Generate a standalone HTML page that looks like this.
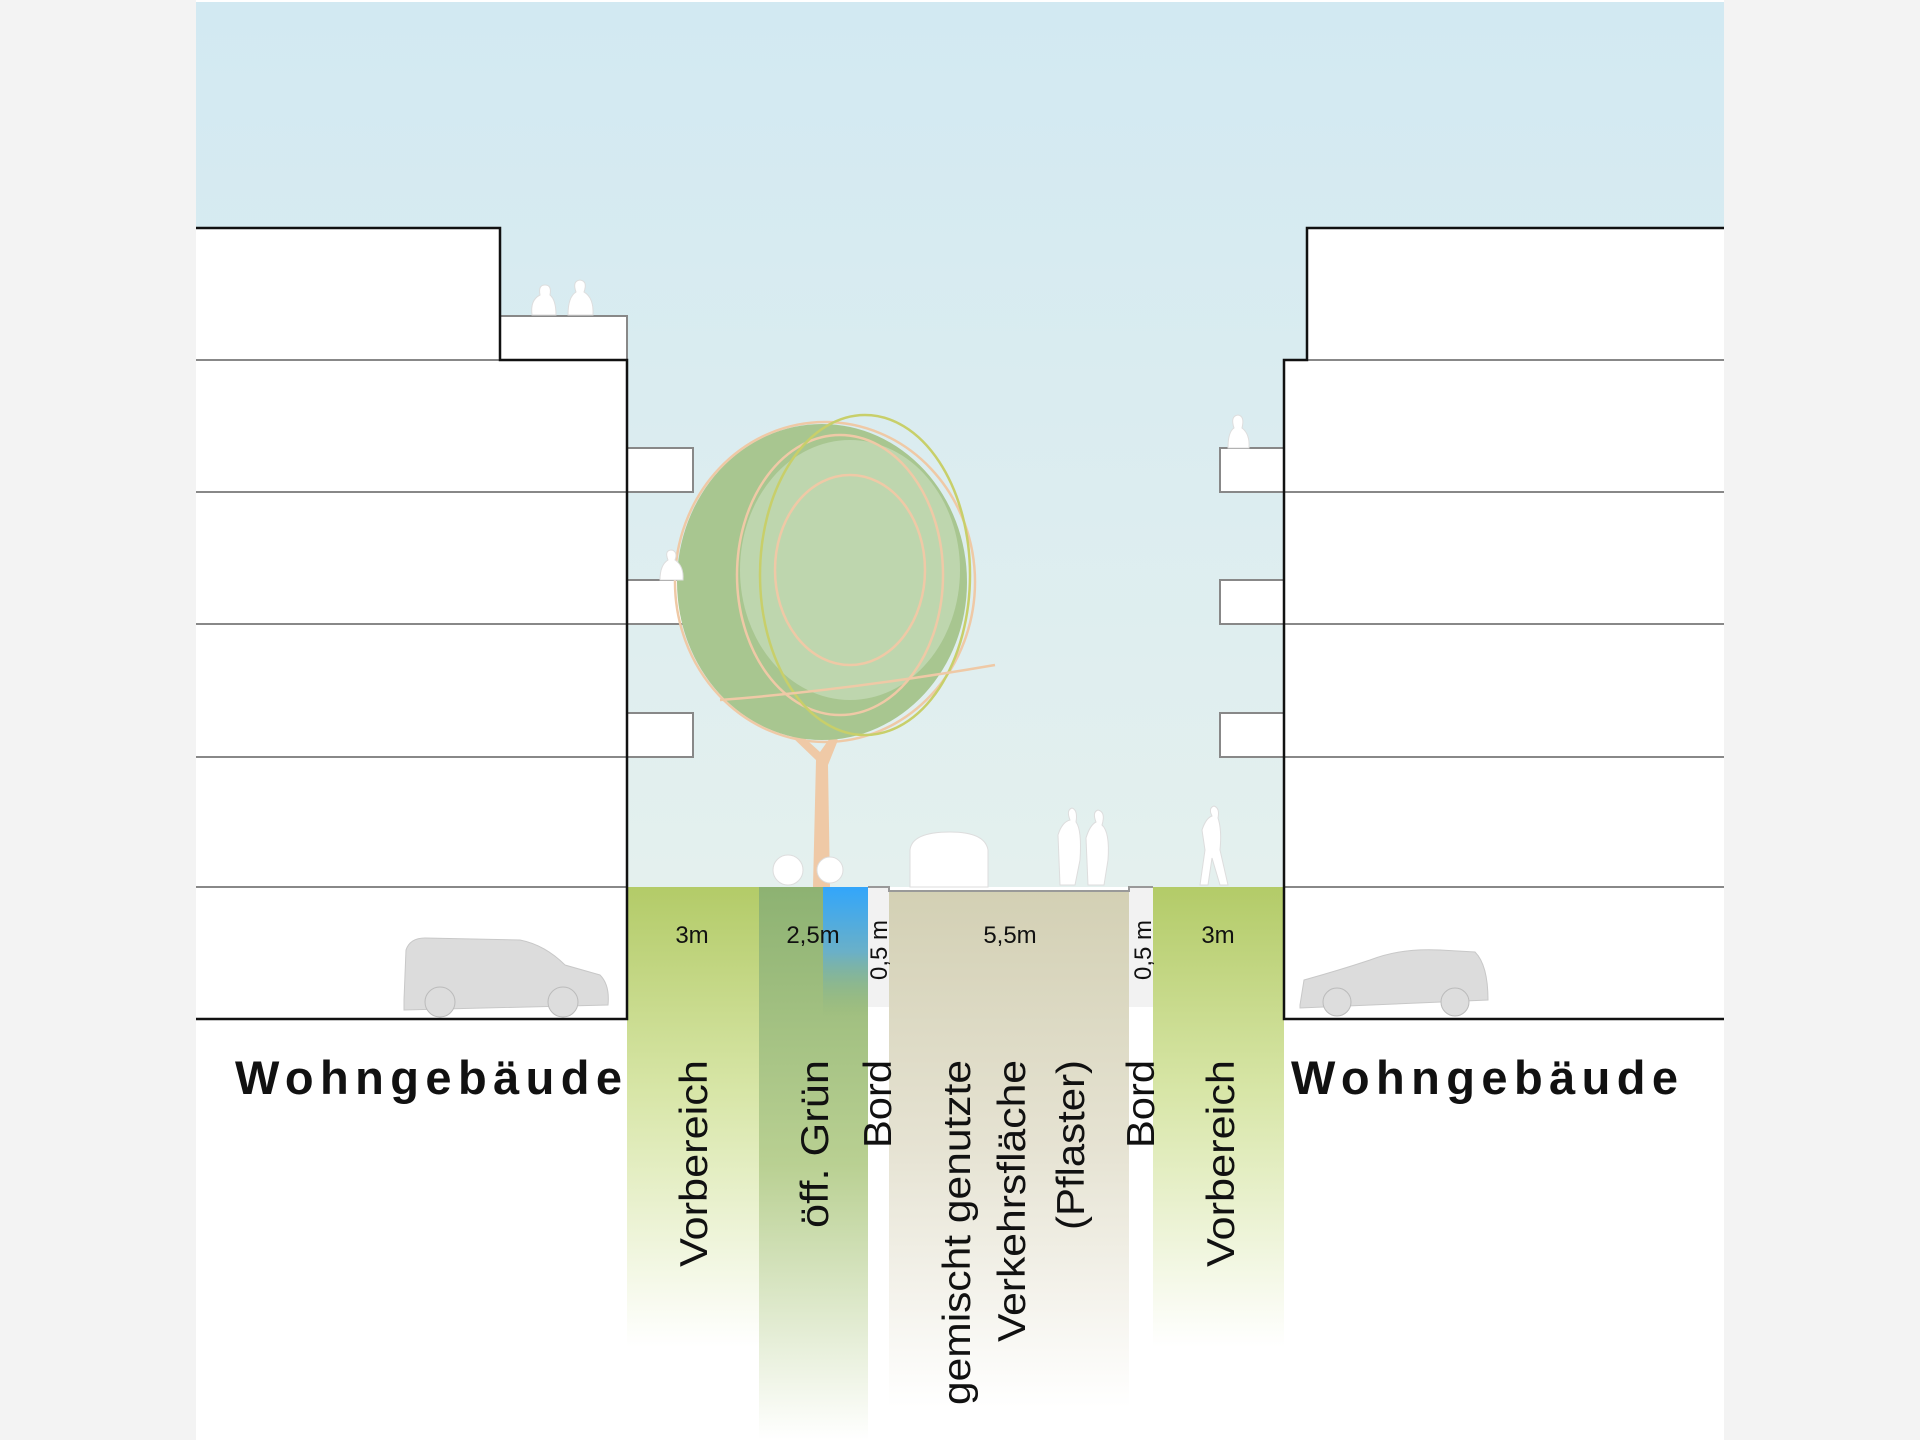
<!DOCTYPE html>
<html><head><meta charset="utf-8"><style>
html,body{margin:0;padding:0;background:#f3f3f3;}
svg{display:block;}
text{font-family:"Liberation Sans","DejaVu Sans",sans-serif;}
</style></head><body>
<svg width="1920" height="1440" viewBox="0 0 1920 1440" xmlns="http://www.w3.org/2000/svg">
<defs>
<linearGradient id="sky" x1="0" y1="0" x2="0" y2="1"><stop offset="0" stop-color="#d2e9f2"/><stop offset="1" stop-color="#e4f0ee"/></linearGradient>
<linearGradient id="vb" x1="0" y1="0" x2="0" y2="1"><stop offset="0" stop-color="#b3cb68"/><stop offset="0.45" stop-color="#d8e6a8"/><stop offset="1" stop-color="#ffffff"/></linearGradient>
<linearGradient id="gr" x1="0" y1="0" x2="0" y2="1"><stop offset="0" stop-color="#8db272"/><stop offset="0.5" stop-color="#b9d092"/><stop offset="1" stop-color="#ffffff"/></linearGradient>
<linearGradient id="bl" x1="0" y1="0" x2="0" y2="1"><stop offset="0" stop-color="#32a6fb"/><stop offset="0.5" stop-color="#6ab0c8"/><stop offset="1" stop-color="#8fb57a" stop-opacity="0"/></linearGradient>
<linearGradient id="pv" x1="0" y1="0" x2="0" y2="1"><stop offset="0" stop-color="#d3d0b4"/><stop offset="0.5" stop-color="#e6e3d3"/><stop offset="1" stop-color="#ffffff"/></linearGradient>
</defs>
<rect x="196" y="0" width="1528" height="1440" fill="#ffffff"/>
<rect x="196" y="2" width="1528" height="885" fill="url(#sky)"/>
<!-- strips -->
<rect x="627" y="887" width="132" height="460" fill="url(#vb)"/>
<rect x="759" y="887" width="109" height="553" fill="url(#gr)"/>
<rect x="823" y="887" width="45" height="130" fill="url(#bl)"/>
<rect x="868" y="887" width="21" height="500" fill="#ffffff"/>
<rect x="868" y="887" width="21" height="120" fill="#f2f2f2"/>
<rect x="889" y="891" width="240" height="517" fill="url(#pv)"/>
<rect x="1129" y="887" width="24" height="120" fill="#f2f2f2"/>
<rect x="1153" y="887" width="131" height="460" fill="url(#vb)"/>
<path d="M868 887 H889 V891 H1129 V887 H1153" fill="none" stroke="#999" stroke-width="2"/>
<!-- balconies -->
<g stroke="#888" stroke-width="2" fill="#fff">
<rect x="500" y="316" width="127" height="44"/>
<rect x="627" y="448" width="66" height="44"/>
<rect x="627" y="580" width="66" height="44"/>
<rect x="627" y="713" width="66" height="44"/>
<rect x="1220" y="448" width="64" height="44"/>
<rect x="1220" y="580" width="64" height="44"/>
<rect x="1220" y="713" width="64" height="44"/>
</g>
<path d="M196 228 H500 V360 H627 V1019 H196 Z" fill="#fff"/>
<path d="M1724 228 H1307 V360 H1284 V1019 H1724 Z" fill="#fff"/>
<g stroke="#888" stroke-width="2">
<line x1="196" y1="360" x2="500" y2="360"/><line x1="196" y1="492" x2="627" y2="492"/><line x1="196" y1="624" x2="627" y2="624"/><line x1="196" y1="757" x2="627" y2="757"/><line x1="196" y1="887" x2="627" y2="887"/>
<line x1="1307" y1="360" x2="1724" y2="360"/><line x1="1284" y1="492" x2="1724" y2="492"/><line x1="1284" y1="624" x2="1724" y2="624"/><line x1="1284" y1="757" x2="1724" y2="757"/><line x1="1284" y1="887" x2="1724" y2="887"/>
</g>
<g stroke="#111" stroke-width="2.5" fill="none">
<path d="M196 228 H500 V360 H627 V1019 H196"/>
<path d="M1724 228 H1307 V360 H1284 V1019 H1724"/>
</g>
<!-- cars -->
<path d="M404 1000 L406 950 Q410 938 425 938 L520 940 Q545 945 565 965 L600 975 Q610 985 608 1005 L404 1010 Z" fill="#dcdcdc" stroke="#c8c8c8"/>
<circle cx="440" cy="1002" r="15" fill="#ddd" stroke="#bbb"/><circle cx="563" cy="1002" r="15" fill="#ddd" stroke="#bbb"/>
<path d="M1300 1005 L1304 980 Q1340 970 1370 960 Q1400 948 1440 950 L1475 952 Q1488 965 1488 1000 L1300 1008 Z" fill="#dcdcdc" stroke="#c8c8c8"/>
<circle cx="1337" cy="1002" r="14" fill="#ddd" stroke="#bbb"/><circle cx="1455" cy="1002" r="14" fill="#ddd" stroke="#bbb"/>
<!-- tree -->
<path d="M813 887 L816 760 L790 735 L798 732 L820 752 L832 735 L838 740 L828 765 L830 887 Z" fill="#efc9a6"/>
<ellipse cx="822" cy="582" rx="145" ry="158" fill="#a8c690"/>
<ellipse cx="850" cy="570" rx="110" ry="130" fill="#bed6ae"/>
<g fill="none" stroke-width="2.5">
<ellipse cx="825" cy="582" rx="150" ry="160" stroke="#efc9a6"/>
<ellipse cx="840" cy="575" rx="103" ry="140" stroke="#efc9a6"/>
<ellipse cx="850" cy="570" rx="75" ry="95" stroke="#efc9a6"/>
<ellipse cx="865" cy="575" rx="105" ry="160" stroke="#c8cf6a"/>
<path d="M720 700 Q850 690 995 665" stroke="#efc9a6"/>
</g>
<!-- people / objects -->
<g fill="#fff" stroke="#ddd" stroke-width="1">
<path d="M532 315 Q530 300 540 295 Q538 285 545 285 Q552 285 550 295 Q556 300 556 315 Z"/>
<path d="M568 315 Q568 297 576 292 Q572 281 580 280 Q588 281 584 292 Q594 298 593 315 Z"/>
<path d="M660 580 Q660 565 668 560 Q664 550 672 550 Q678 552 675 560 Q684 566 683 580 Z"/>
<path d="M1228 448 Q1228 432 1234 428 Q1230 416 1238 415 Q1245 416 1242 428 Q1250 434 1249 448 Z"/>
<circle cx="788" cy="870" r="15"/><circle cx="830" cy="870" r="13"/>
<path d="M910 887 V850 Q912 832 950 832 Q985 832 988 850 V887 Z"/>
<path d="M1060 885 L1058 835 Q1062 822 1070 820 Q1066 810 1072 808 Q1078 810 1076 822 Q1082 830 1080 860 L1075 885 Z"/>
<path d="M1088 885 L1086 838 Q1090 825 1096 822 Q1092 812 1098 810 Q1106 812 1102 825 Q1110 832 1108 860 L1104 885 Z"/>
<path d="M1200 885 L1205 850 L1202 830 Q1206 818 1212 816 Q1208 808 1214 806 Q1220 808 1218 818 Q1222 830 1220 850 L1228 885 L1220 885 L1212 858 L1208 885 Z"/>
</g>
<!-- labels -->
<g font-size="24" fill="#111" text-anchor="middle">
<text x="692" y="943">3m</text>
<text x="813" y="943">2,5m</text>
<text x="1010" y="943">5,5m</text>
<text x="1218" y="943">3m</text>
<text transform="translate(887,950) rotate(-90)">0,5 m</text>
<text transform="translate(1151,950) rotate(-90)">0,5 m</text>
</g>
<g font-size="39" fill="#111" lengthAdjust="spacingAndGlyphs">
<text transform="translate(707,1267) rotate(-90)" textLength="207" lengthAdjust="spacingAndGlyphs">Vorbereich</text>
<text transform="translate(828,1228) rotate(-90)" textLength="168" lengthAdjust="spacingAndGlyphs">öff. Grün</text>
<text transform="translate(891,1148) rotate(-90)" textLength="88" lengthAdjust="spacingAndGlyphs">Bord</text>
<text transform="translate(970,1405) rotate(-90)" textLength="345" lengthAdjust="spacingAndGlyphs">gemischt genutzte</text>
<text transform="translate(1025,1342) rotate(-90)" textLength="282" lengthAdjust="spacingAndGlyphs">Verkehrsfläche</text>
<text transform="translate(1084,1230) rotate(-90)" textLength="170" lengthAdjust="spacingAndGlyphs">(Pflaster)</text>
<text transform="translate(1154,1148) rotate(-90)" textLength="88" lengthAdjust="spacingAndGlyphs">Bord</text>
<text transform="translate(1234,1267) rotate(-90)" textLength="207" lengthAdjust="spacingAndGlyphs">Vorbereich</text>
</g>
<g font-size="47" font-weight="bold" fill="#111">
<text x="235" y="1094" textLength="387" lengthAdjust="spacing">Wohngebäude</text>
<text x="1291" y="1094" textLength="387" lengthAdjust="spacing">Wohngebäude</text>
</g>
</svg>
</body></html>
